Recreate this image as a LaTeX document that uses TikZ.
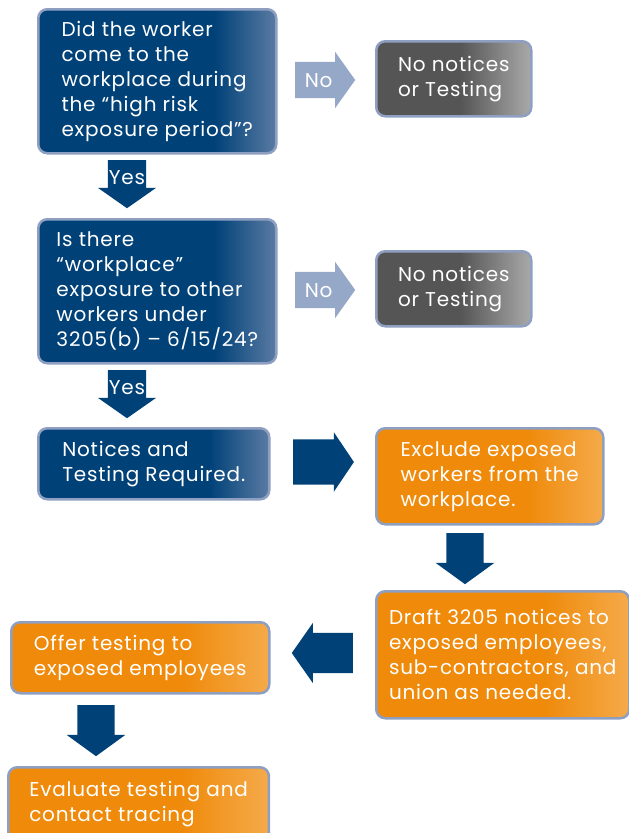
\documentclass[tikz,border=0pt]{standalone}
\usepackage{fontspec}
\setmainfont[LetterSpace=4]{Poppins}
\usetikzlibrary{shapes.arrows}
\definecolor{navy}{HTML}{004178}
\definecolor{navyL}{HTML}{5A7BA3}
\definecolor{rim}{HTML}{8E9FC1}
\definecolor{steel}{HTML}{96A8C8}
\definecolor{slate}{HTML}{555555}
\definecolor{slateL}{HTML}{A9A9A9}
\definecolor{amber}{HTML}{EF8A0A}
\definecolor{amberL}{HTML}{F5AA4A}
\pgfdeclarehorizontalshading{navyshade}{100bp}{color(0bp)=(navy); color(62bp)=(navy); color(75bp)=(navyL); color(100bp)=(navyL)}
\pgfdeclarehorizontalshading{slateshade}{100bp}{color(0bp)=(slate); color(52bp)=(slate); color(75bp)=(slateL); color(100bp)=(slateL)}
\pgfdeclarehorizontalshading{ambershade}{100bp}{color(0bp)=(amber); color(58bp)=(amber); color(75bp)=(amberL); color(100bp)=(amberL)}
\begin{document}
\begin{tikzpicture}[x=1pt,y=-1pt,
  box/.style={shape=rectangle,rounded corners=9pt,draw=rim,line width=2.5pt,text=white,align=left,anchor=north west,inner xsep=21pt,font=\fontsize{20}{25}\selectfont},
  ask/.style={box,shade,shading=navyshade},
  stop/.style={box,shade,shading=slateshade},
  act/.style={box,shade,shading=ambershade},
  blk/.style={shape=single arrow,anchor=tail,inner sep=0pt,single arrow head extend=10pt,text=white,font=\fontsize{20}{20}\selectfont},
  yes/.style={blk,fill=navy,shape border rotate=270,text width=38pt,align=center,minimum height=48pt,single arrow tip angle=110},
  no/.style={blk,fill=steel,text height=25pt,text depth=11pt,minimum height=60pt,single arrow tip angle=109},
  go/.style={blk,fill=navy,inner sep=22.5pt,minimum height=59pt,single arrow head extend=7pt,single arrow tip angle=112},
  godown/.style={blk,fill=navy,shape border rotate=270,inner sep=18.5pt,minimum height=48pt,single arrow head extend=10.5pt,single arrow tip angle=108},
  goleft/.style={blk,fill=navy,shape border rotate=180,inner sep=20pt,minimum height=61pt,single arrow tip angle=110}]
\useasboundingbox (0,0) rectangle (629,833);
\clip (0,0) rectangle (629,833);

\node[ask,minimum width=238pt,minimum height=144pt] (q1) at (37,8) {Did the worker\\come to the\\workplace during\\the “high risk\\exposure period”?};
\node[stop,minimum width=155pt,minimum height=75pt] (n1) at (375,40) {No notices\\or Testing};
\node[no] (no1) at (295,80) {No};
\node[yes] (y1) at (127,160) {Yes};

\node[ask,inner xsep=17pt,minimum width=238pt,minimum height=144pt] (q2) at (37,218) {Is there\\“workplace”\\exposure to other\\workers under\\3205(b) – 6/15/24?};
\node[stop,minimum width=155pt,minimum height=75pt] (n2) at (375,250) {No notices\\or Testing};
\node[no] (no2) at (295,290) {No};
\node[yes] (y2) at (127,370) {Yes};

\node[ask,minimum width=231pt,minimum height=71pt] (req) at (37,427) {Notices and\\Testing Required.};
\node[go] (g1) at (293,462) {};
\node[act,minimum width=227pt,minimum height=96pt] (excl) at (375,427) {Exclude exposed\\workers from the\\workplace.};
\node[godown] (g2) at (465,533) {};
\node[act,inner xsep=12pt,minimum width=253pt,minimum height=127pt] (draft) at (375,590) {Draft 3205 notices to\\exposed employees,\\sub-contractors, and\\union as needed.};
\node[goleft] (g3) at (353,653) {};
\node[act,minimum width=258pt,minimum height=71pt] (offer) at (10,621) {Offer testing to\\exposed employees};
\node[godown] (g4) at (96,705) {};
\node[act,minimum width=258pt,minimum height=74pt] (eval) at (7,766) {Evaluate testing and\\contact tracing};
\end{tikzpicture}
\end{document}
